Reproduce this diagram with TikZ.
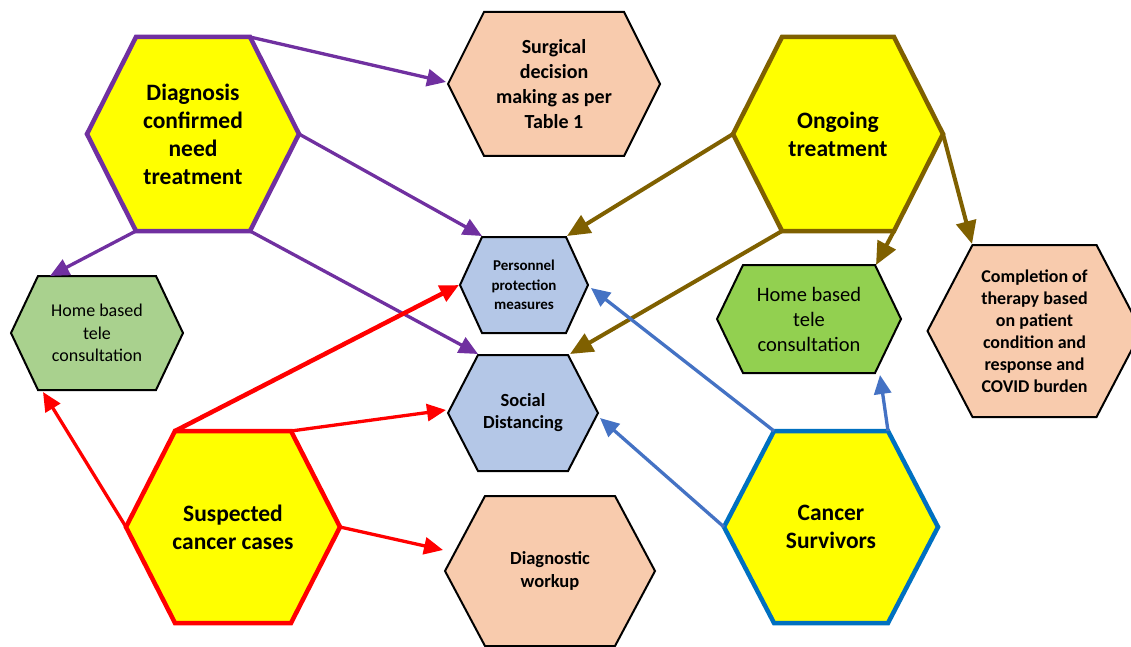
\documentclass[tikz,border=0pt]{standalone}
\usepackage{fontspec}
\setmainfont{Carlito}
\usetikzlibrary{arrows.meta}
\definecolor{hyellow}{HTML}{FFFF00}
\definecolor{hpurple}{HTML}{7030A0}
\definecolor{hbrown}{HTML}{7F6000}
\definecolor{hred}{HTML}{FF0000}
\definecolor{hblueb}{HTML}{0070C0}
\definecolor{hbluea}{HTML}{4472C4}
\definecolor{hpeach}{HTML}{F8CBAD}
\definecolor{hlblue}{HTML}{B4C7E7}
\definecolor{hgreenA}{HTML}{A9D18E}
\definecolor{hgreenB}{HTML}{92D050}
\tikzset{
  hexbig/.style={fill=hyellow, line width=4.5pt, line join=miter},
  hexsmall/.style={line width=2pt, draw=black, line join=miter},
  txt/.style={align=center, inner sep=0pt},
  fbig/.style={font=\fontsize{23.5}{28}\selectfont\bfseries},
  conn/.style={line width=3.3pt, -{Triangle[length=19pt,width=17pt]}},
  connbig/.style={line width=4pt, -{Triangle[length=23pt,width=20pt]}},
}
% name, cx, cy, half width, half top width, half height, style, text style, text
\newcommand\hexa[9]{%
  \coordinate (#1-tl) at ({#2-#5},{#3-#6});
  \coordinate (#1-tr) at ({#2+#5},{#3-#6});
  \coordinate (#1-r) at ({#2+#4},{#3});
  \coordinate (#1-br) at ({#2+#5},{#3+#6});
  \coordinate (#1-bl) at ({#2-#5},{#3+#6});
  \coordinate (#1-l) at ({#2-#4},{#3});
  \draw[#7] (#1-tl) -- (#1-tr) -- (#1-r) -- (#1-br) -- (#1-bl) -- (#1-l) -- cycle;
  \node[txt,#8] (#1) at (#2,#3) {#9};
}
\begin{document}
\begin{tikzpicture}[x=1pt,y=-1pt]
\useasboundingbox[fill=white] (0,0) rectangle (1131,647);
\hexa{diag}{193}{134}{106}{57}{97}{hexbig,draw=hpurple}{fbig}{Diagnosis\\confirmed\\need\\treatment}
\hexa{surg}{554}{84}{106}{70}{72}{hexsmall,fill=hpeach}{font=\fontsize{20}{25}\selectfont\bfseries}{Surgical\\decision\\making as per\\Table 1}
\hexa{ong}{838}{134}{105}{56}{97}{hexbig,draw=hbrown}{fbig}{Ongoing\\treatment}
\hexa{pers}{524}{285}{64}{42}{48}{hexsmall,fill=hlblue}{font=\fontsize{15}{19.5}\selectfont\bfseries}{Personnel\\protection\\measures}
\hexa{soc}{523}{413}{75}{45}{58}{hexsmall,fill=hlblue}{font=\fontsize{18.5}{22}\selectfont\bfseries}{Social\\Distancing}
\hexa{homeL}{97}{333}{86}{59}{57}{hexsmall,fill=hgreenA}{font=\fontsize{18}{22.5}\selectfont}{Home based\\tele\\consultation}
\hexa{homeR}{809}{319}{92}{66}{54}{hexsmall,fill=hgreenB}{font=\fontsize{20.5}{25}\selectfont}{Home based\\tele\\consultation}
\hexa{compl}{1034.5}{331}{107}{62}{86}{hexsmall,fill=hpeach}{font=\fontsize{18}{22}\selectfont\bfseries}{Completion of\\therapy based\\on patient\\condition and\\response and\\COVID burden}
\hexa{susp}{233}{527}{107}{58}{96}{hexbig,draw=hred}{fbig}{Suspected\\cancer cases}
\hexa{work}{550}{571}{105}{65}{75}{hexsmall,fill=hpeach}{font=\fontsize{18.5}{23}\selectfont\bfseries}{Diagnostic\\workup}
\hexa{surv}{831}{527}{107}{57}{96}{hexbig,draw=hblueb}{fbig}{Cancer\\Survivors}
% target points
\coordinate (tSurg) at (446,82);
\coordinate (tPersTL) at (482,236);
\coordinate (tSocTL) at (478,354);
\coordinate (tHomeLT) at (50,276);
\coordinate (tPersTR) at (567,236);
\coordinate (tSocTR) at (570,354);
\coordinate (tHomeRT) at (876,265);
\coordinate (tCompl) at (972,244);
\coordinate (tPersL) at (459,285);
\coordinate (tSocL) at (446,410);
\coordinate (tWork) at (443,550);
\coordinate (tHomeLB) at (43,392);
\coordinate (tPersR) at (591,288);
\coordinate (tSocR) at (600,418);
\coordinate (tHomeRB) at (880,375);
% purple
\draw[conn,hpurple] (diag-tr) -- (tSurg);
\draw[conn,hpurple] (diag-r) -- (tPersTL);
\draw[conn,hpurple] (diag-br) -- (tSocTL);
\draw[conn,hpurple] (diag-bl) -- (tHomeLT);
% brown
\draw[connbig,hbrown] (ong-l) -- (tPersTR);
\draw[connbig,hbrown] (ong-bl) -- (tSocTR);
\draw[connbig,hbrown] (ong-br) -- (tHomeRT);
\draw[connbig,hbrown] (ong-r) -- (tCompl);
% red
\draw[conn,hred,line width=4.5pt] (susp-tl) -- (tPersL);
\draw[conn,hred] (susp-tr) -- (tSocL);
\draw[conn,hred] (susp-r) -- (tWork);
\draw[conn,hred] (susp-l) -- (tHomeLB);
% blue
\draw[conn,hbluea] (surv-tl) -- (tPersR);
\draw[conn,hbluea] (surv-l) -- (tSocR);
\draw[conn,hbluea] (surv-tr) -- (tHomeRB);
\end{tikzpicture}
\end{document}
